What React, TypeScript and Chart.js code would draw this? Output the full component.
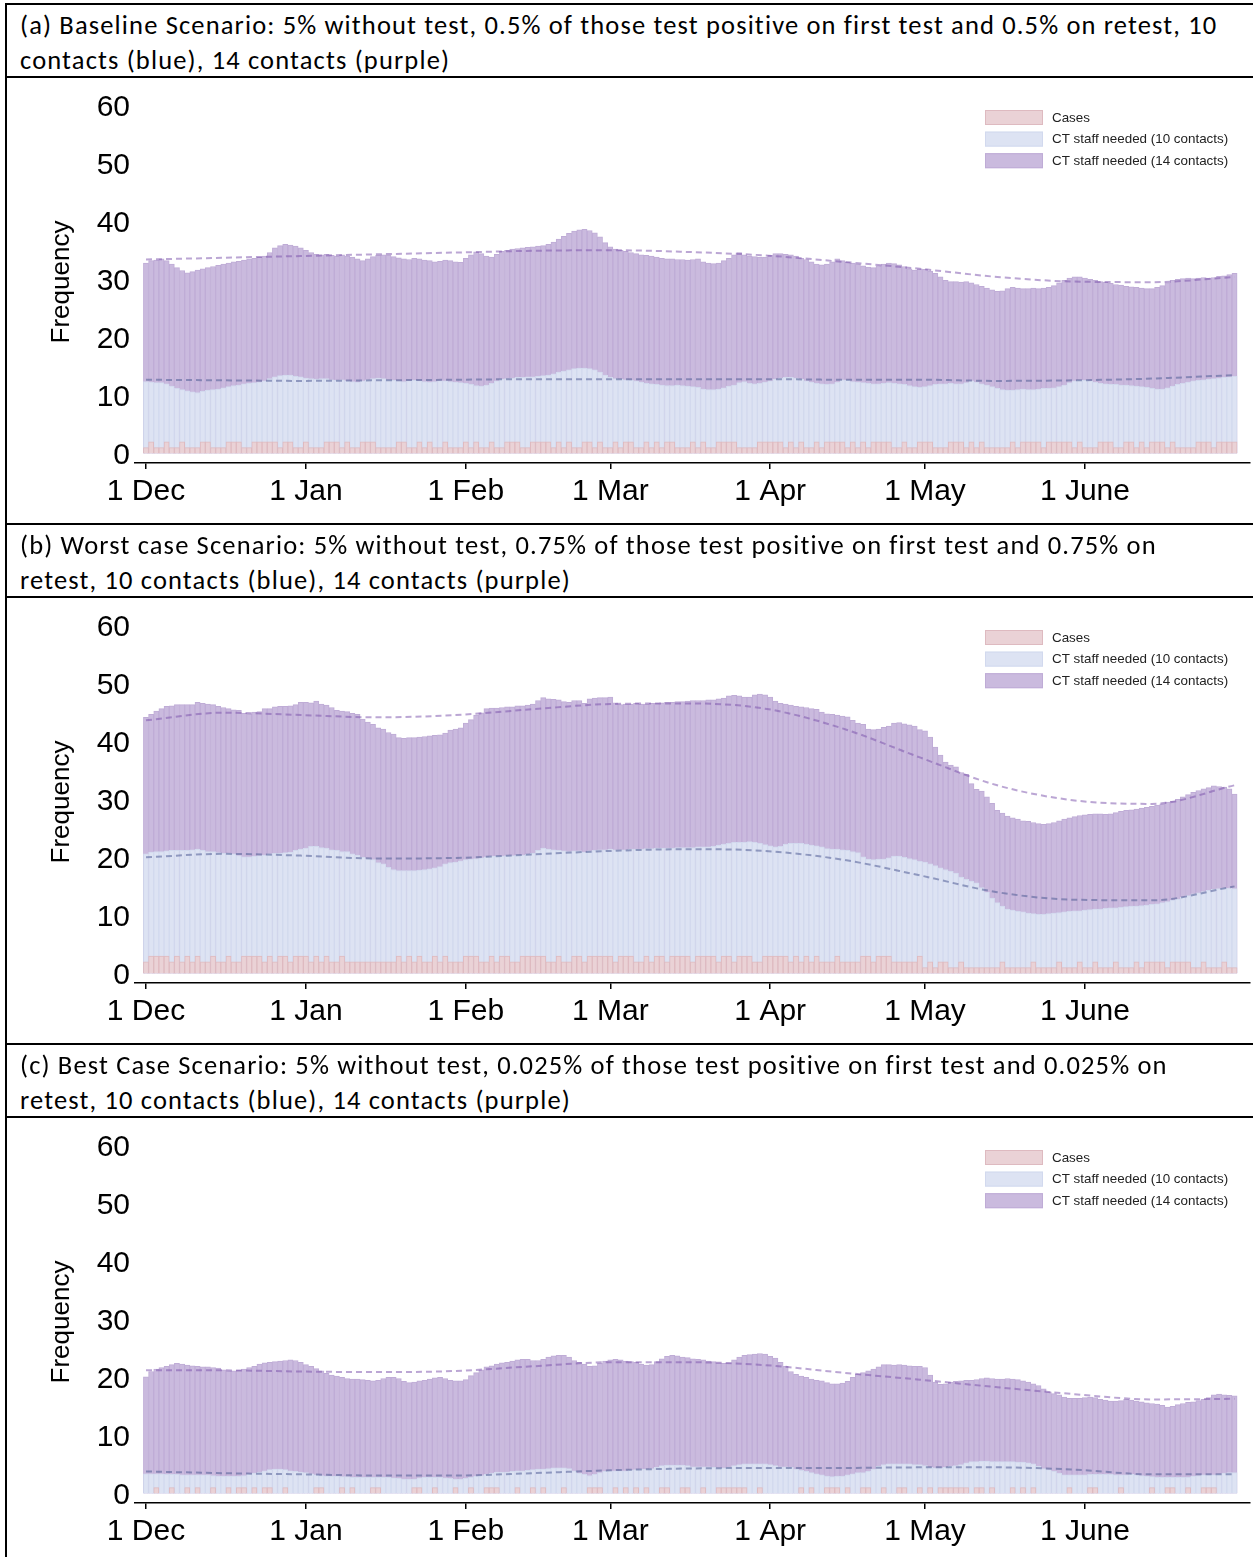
import React, { useEffect, useRef } from 'react';
import { Chart, registerables } from 'chart.js';

Chart.register(...registerables);

// ---------- shared axis data ----------
const monthDays = [0, 31, 62, 90, 121, 151, 182];
const monthLabels = ['1 Dec', '1 Jan', '1 Feb', '1 Mar', '1 Apr', '1 May', '1 June'];
const yTicks = [0, 10, 20, 30, 40, 50, 60];
const seriesLabels = ['Cases', 'CT staff needed (10 contacts)', 'CT staff needed (14 contacts)'];
const trendDays = [0, 15, 30, 45, 60, 75, 90, 105, 120, 135, 150, 165, 180, 195, 211];

// ---------- panel (a) baseline ----------
const titleA = [
  '(a) Baseline Scenario: 5% without test, 0.5% of those test positive on first test and 0.5% on retest, 10',
  'contacts (blue), 14 contacts (purple)',
];
const casesA = [
  1, 2, 1, 1, 2, 1, 1, 2, 1, 1, 1, 2, 2, 1, 1, 1, 2, 2, 2, 1, 1, 2, 2, 2, 2, 2, 1, 2, 2, 1, 1,
  2, 1, 1, 1, 2, 2, 2, 1, 2, 1, 1, 2, 2, 2, 1, 1, 1, 1, 2, 2, 1, 1, 2, 1, 2, 1, 1, 2, 1, 1, 1,
  2, 1, 2, 1, 1, 2, 1, 1, 2, 2, 2, 1, 1, 2, 2, 2, 2, 1, 2, 1, 2, 1, 1, 2, 2, 1, 2, 1,
  1, 2, 1, 2, 2, 1, 1, 2, 1, 2, 1, 2, 2, 1, 1, 1, 2, 1, 2, 1, 1, 2, 2, 2, 2, 1, 1, 1, 1, 2, 2,
  2, 2, 2, 1, 2, 1, 2, 1, 1, 2, 1, 2, 2, 2, 2, 1, 2, 1, 2, 1, 2, 2, 2, 2, 1, 1, 2, 1, 1, 2,
  2, 2, 1, 1, 1, 2, 2, 2, 1, 2, 1, 2, 1, 1, 1, 1, 1, 2, 1, 2, 2, 2, 2, 1, 2, 2, 2, 2, 2, 1, 2,
  1, 1, 1, 2, 2, 2, 1, 1, 2, 2, 1, 2, 1, 2, 2, 2, 1, 2, 1, 1, 1, 1, 2, 2, 2, 1, 2, 2, 2, 2,
];
const staff10A = [
  12.4, 12.3, 12.2, 12.2, 12.0, 11.6, 11.2, 11.0, 10.8, 10.6, 10.5, 10.7, 10.9, 11.0, 11.1, 11.3, 11.5, 11.7, 11.8, 12.0, 12.1, 12.2, 12.3, 12.5, 12.9, 13.2, 13.4, 13.5, 13.5, 13.3, 13.2,
  13.0, 12.9, 12.8, 12.9, 12.9, 12.7, 12.6, 12.7, 12.5, 12.4, 12.3, 12.5, 12.7, 12.9, 13.0, 12.9, 12.7, 12.6, 12.5, 12.4, 12.5, 12.6, 12.5, 12.4, 12.3, 12.4, 12.5, 12.5, 12.4, 12.3, 12.2,
  12.1, 11.9, 11.7, 11.6, 11.8, 12.1, 12.5, 12.8, 12.9, 13.0, 13.1, 13.1, 13.2, 13.2, 13.3, 13.4, 13.5, 13.7, 14.0, 14.2, 14.4, 14.6, 14.7, 14.7, 14.6, 14.4, 14.0, 13.5,
  13.1, 12.9, 12.8, 12.7, 12.6, 12.5, 12.3, 12.1, 12.0, 11.9, 11.8, 11.7, 11.7, 11.8, 11.7, 11.6, 11.5, 11.4, 11.1, 11.0, 11.0, 11.1, 11.3, 11.6, 11.8, 12.2, 12.4, 12.1, 12.0, 12.1, 12.3,
  12.5, 12.8, 13.0, 13.1, 13.1, 13.0, 12.8, 12.5, 12.3, 12.1, 12.0, 11.9, 12.0, 12.3, 12.7, 12.6, 12.4, 12.3, 12.2, 12.1, 12.0, 12.0, 12.1, 12.2, 12.1, 12.0, 11.9, 11.7, 11.5, 11.4,
  11.5, 11.7, 11.9, 12.0, 12.0, 12.1, 12.0, 12.0, 12.2, 12.5, 12.3, 12.0, 11.8, 11.5, 11.2, 11.0, 10.9, 10.9, 11.0, 11.1, 11.0, 11.0, 11.1, 11.2, 11.2, 11.3, 11.5, 11.8, 12.2, 12.5, 12.6,
  12.6, 12.5, 12.3, 12.1, 12.0, 11.9, 11.9, 11.8, 11.8, 11.7, 11.6, 11.5, 11.4, 11.2, 11.1, 11.1, 11.3, 11.6, 11.9, 12.1, 12.3, 12.5, 12.6, 12.7, 12.8, 12.9, 13.0, 13.1, 13.2, 13.3,
];
const staff14A = [
  32.8, 33.2, 33.3, 33.5, 33.2, 32.6, 32.0, 31.5, 31.1, 31.3, 31.6, 31.8, 32.0, 32.2, 32.4, 32.6, 32.8, 33.0, 33.1, 33.3, 33.5, 33.6, 33.8, 34.0, 34.6, 35.4, 35.8, 36.0, 35.9, 35.7, 35.4,
  35.0, 34.6, 34.3, 34.2, 34.3, 34.1, 34.0, 34.2, 34.0, 33.8, 33.5, 33.2, 33.5, 33.9, 34.1, 34.2, 34.1, 33.9, 33.7, 33.5, 33.4, 33.6, 33.5, 33.3, 33.2, 33.0, 33.1, 33.3, 33.2, 33.0, 32.9,
  33.6, 34.2, 34.7, 34.4, 34.0, 33.8, 34.3, 34.8, 35.0, 35.2, 35.3, 35.4, 35.5, 35.6, 35.7, 35.8, 36.0, 36.4, 36.9, 37.4, 37.9, 38.3, 38.5, 38.6, 38.4, 38.0, 37.3, 36.3,
  35.6, 35.2, 35.0, 34.8, 34.6, 34.4, 34.2, 34.1, 34.0, 33.8, 33.6, 33.5, 33.5, 33.4, 33.4, 33.3, 33.4, 33.5, 33.0, 32.8, 32.7, 32.8, 33.2, 33.6, 34.2, 34.6, 34.2, 34.0, 33.9, 33.8, 33.8,
  34.1, 34.4, 34.4, 34.3, 34.2, 34.0, 33.6, 33.4, 33.0, 32.6, 32.5, 32.6, 33.0, 33.5, 33.2, 32.9, 32.8, 32.6, 32.3, 32.1, 32.0, 32.3, 32.6, 32.8, 32.7, 32.5, 32.2, 31.8, 31.6, 31.8,
  31.7, 31.4, 31.0, 30.4, 29.8, 29.6, 29.6, 29.5, 29.6, 29.4, 29.1, 28.8, 28.5, 28.2, 27.9, 28.0, 28.4, 28.6, 28.5, 28.4, 28.4, 28.5, 28.4, 28.5, 28.6, 28.9, 29.4, 29.8, 30.2, 30.4, 30.4,
  30.2, 30.0, 29.8, 29.6, 29.5, 29.3, 29.1, 29.0, 28.8, 28.7, 28.6, 28.5, 28.4, 28.4, 28.6, 28.9, 29.4, 29.8, 30.0, 30.1, 30.2, 30.1, 30.2, 30.3, 30.2, 30.3, 30.5, 30.6, 30.8, 31.0,
];
const trend10A = [12.7, 12.6, 12.5, 12.6, 12.7, 12.8, 12.8, 12.8, 12.8, 12.7, 12.7, 12.5, 12.6, 12.9, 13.5];
const trend14A = [33.4, 33.7, 34.0, 34.3, 34.6, 34.9, 35.0, 34.7, 34.1, 33.0, 31.8, 30.4, 29.6, 29.5, 30.4];

// ---------- panel (b) worst case ----------
const titleB = [
  '(b) Worst case Scenario: 5% without test, 0.75% of those test positive on first test and 0.75% on',
  'retest, 10 contacts (blue), 14 contacts (purple)',
];
const casesB = [
  2, 3, 3, 3, 3, 2, 3, 2, 3, 2, 3, 2, 2, 3, 2, 2, 3, 2, 2, 3, 3, 3, 3, 2, 3, 2, 3, 3, 2, 3, 3,
  3, 2, 3, 2, 3, 2, 2, 3, 2, 2, 2, 2, 2, 2, 2, 2, 2, 2, 3, 2, 3, 2, 3, 2, 2, 3, 2, 3, 2, 2, 2,
  3, 3, 3, 2, 2, 3, 2, 3, 3, 2, 2, 3, 3, 3, 3, 3, 2, 2, 3, 2, 2, 3, 3, 2, 3, 3, 3, 3,
  3, 2, 3, 3, 3, 2, 2, 3, 2, 3, 3, 2, 3, 3, 3, 3, 2, 3, 3, 3, 3, 2, 3, 3, 2, 3, 3, 3, 2, 2, 3,
  3, 3, 3, 3, 2, 3, 2, 3, 2, 3, 2, 2, 2, 3, 2, 2, 2, 2, 3, 3, 2, 3, 3, 3, 2, 2, 2, 2, 2, 3,
  1, 2, 1, 2, 2, 1, 1, 2, 1, 1, 1, 1, 1, 1, 1, 2, 1, 1, 1, 1, 1, 2, 1, 1, 1, 1, 2, 1, 1, 1, 2,
  1, 1, 2, 1, 1, 1, 2, 1, 1, 1, 2, 1, 2, 2, 2, 2, 1, 2, 2, 2, 2, 1, 1, 2, 1, 1, 1, 2, 1, 1,
];
const staff10B = [
  20.6, 20.9, 21.0, 21.0, 21.1, 21.2, 21.2, 21.2, 21.2, 21.3, 21.4, 21.2, 21.0, 21.0, 20.8, 20.7, 20.7, 20.6, 20.3, 20.1, 20.1, 20.2, 20.3, 20.4, 20.6, 20.7, 20.7, 20.8, 20.9, 21.2, 21.4,
  21.6, 21.9, 21.9, 21.7, 21.6, 21.3, 21.2, 21.0, 21.0, 20.6, 20.4, 20.0, 19.8, 19.6, 19.1, 18.9, 18.3, 17.9, 17.7, 17.7, 17.7, 17.7, 17.8, 17.9, 18.0, 18.2, 18.4, 18.9, 19.1, 19.2, 19.4,
  19.6, 19.7, 19.8, 19.9, 20.1, 20.2, 20.2, 20.2, 20.3, 20.3, 20.4, 20.4, 20.5, 20.7, 21.2, 21.6, 21.4, 21.3, 21.2, 21.1, 21.0, 21.1, 21.1, 20.9, 21.1, 21.2, 21.3, 21.3,
  21.4, 21.3, 21.3, 21.3, 21.4, 21.4, 21.4, 21.5, 21.5, 21.6, 21.6, 21.6, 21.6, 21.7, 21.7, 21.7, 21.7, 21.8, 21.8, 21.8, 21.9, 22.1, 22.3, 22.4, 22.6, 22.6, 22.6, 22.7, 22.6, 22.4, 22.2,
  22.0, 21.8, 21.9, 22.3, 22.4, 22.4, 22.4, 22.3, 22.1, 22.0, 21.8, 21.5, 21.4, 21.4, 21.3, 21.2, 21.0, 20.8, 20.1, 19.7, 19.6, 19.7, 19.7, 19.9, 20.2, 20.2, 20.0, 19.8, 19.6, 19.3,
  19.2, 18.9, 18.6, 18.2, 17.9, 17.6, 17.3, 16.6, 16.2, 15.9, 15.6, 14.8, 14.0, 13.0, 12.2, 11.6, 11.1, 10.9, 10.7, 10.6, 10.4, 10.3, 10.2, 10.2, 10.3, 10.4, 10.5, 10.6, 10.7, 10.8, 10.8,
  10.9, 11.0, 11.1, 11.1, 11.2, 11.3, 11.3, 11.4, 11.5, 11.6, 11.6, 11.7, 11.8, 11.9, 12.0, 12.2, 12.4, 12.6, 12.8, 13.1, 13.4, 13.7, 13.9, 14.1, 14.3, 14.5, 14.6, 14.7, 14.7, 14.6,
];
const staff14B = [
  44.1, 44.6, 45.2, 45.6, 46.0, 46.1, 46.3, 46.3, 46.3, 46.3, 46.7, 46.5, 46.4, 46.3, 46.0, 45.8, 45.6, 45.4, 45.3, 44.8, 44.7, 45.0, 45.1, 45.6, 45.6, 45.9, 46.0, 46.0, 46.1, 46.3, 46.7,
  46.7, 46.6, 46.9, 46.4, 46.2, 45.8, 45.3, 45.2, 45.1, 44.8, 44.6, 43.8, 43.3, 42.9, 42.3, 42.1, 41.5, 41.2, 40.6, 40.5, 40.6, 40.6, 40.7, 40.8, 40.9, 41.0, 41.1, 41.4, 41.9, 42.1, 42.3,
  43.1, 43.7, 44.5, 44.9, 45.6, 45.7, 45.7, 45.8, 45.9, 45.9, 46.1, 46.1, 46.2, 46.4, 47.0, 47.5, 47.3, 47.2, 47.1, 46.8, 46.7, 47.0, 47.0, 46.5, 47.3, 47.4, 47.5, 47.5,
  47.6, 46.6, 46.3, 46.4, 46.4, 46.5, 46.4, 46.4, 46.5, 46.5, 46.6, 46.7, 46.7, 46.8, 46.8, 46.9, 47.0, 47.0, 47.0, 47.1, 47.1, 47.3, 47.4, 47.8, 47.9, 47.8, 47.6, 47.6, 48.0, 48.1, 48.0,
  47.6, 46.9, 46.5, 46.4, 46.2, 46.0, 45.9, 45.8, 45.6, 45.5, 45.0, 44.7, 44.6, 44.5, 44.3, 44.2, 43.6, 43.1, 42.9, 42.1, 42.0, 42.1, 42.4, 42.6, 43.1, 43.2, 43.0, 42.8, 42.6, 42.0,
  41.8, 40.7, 39.0, 37.6, 36.4, 35.9, 35.6, 34.6, 34.3, 32.7, 31.7, 31.4, 30.4, 29.3, 28.1, 27.6, 27.1, 26.8, 26.6, 26.3, 26.2, 26.0, 25.8, 25.7, 25.8, 26.0, 26.3, 26.6, 26.8, 27.0, 27.2,
  27.3, 27.4, 27.5, 27.5, 27.4, 27.5, 27.7, 27.9, 28.1, 28.2, 28.3, 28.5, 28.6, 28.8, 29.0, 29.2, 29.5, 29.7, 30.0, 30.4, 30.8, 31.2, 31.5, 31.8, 32.0, 32.3, 32.2, 32.1, 31.8, 30.9,
];
const trend10B = [20.0, 20.6, 20.3, 19.8, 19.9, 20.5, 21.1, 21.4, 21.1, 19.6, 16.9, 14.0, 12.7, 12.6, 15.0];
const trend14B = [43.6, 44.9, 44.5, 44.1, 44.5, 45.5, 46.4, 46.5, 45.6, 42.2, 37.2, 32.4, 29.8, 29.2, 32.4];

// ---------- panel (c) best case ----------
const titleC = [
  '(c) Best Case Scenario: 5% without test, 0.025% of those test positive on first test and 0.025% on',
  'retest, 10 contacts (blue), 14 contacts (purple)',
];
const casesC = [
  0, 0, 1, 0, 0, 1, 0, 0, 1, 0, 1, 0, 0, 1, 0, 0, 1, 0, 1, 1, 0, 1, 0, 1, 1, 0, 0, 1, 0, 0, 0,
  0, 0, 1, 1, 0, 0, 0, 1, 0, 1, 0, 0, 0, 1, 1, 0, 0, 0, 0, 0, 0, 1, 1, 0, 0, 1, 0, 0, 0, 1, 0,
  0, 1, 0, 0, 1, 1, 1, 0, 0, 0, 1, 0, 0, 1, 0, 1, 0, 0, 0, 1, 0, 0, 0, 0, 1, 1, 1, 0,
  0, 1, 0, 1, 0, 1, 0, 1, 0, 0, 1, 1, 0, 0, 1, 1, 0, 0, 1, 0, 0, 1, 1, 1, 1, 1, 1, 0, 0, 1, 0,
  0, 0, 0, 0, 0, 0, 1, 0, 1, 0, 0, 1, 1, 1, 0, 1, 0, 0, 1, 1, 0, 0, 1, 0, 0, 1, 1, 0, 0, 1,
  0, 1, 0, 1, 1, 1, 1, 1, 1, 0, 1, 1, 0, 1, 0, 0, 0, 1, 0, 1, 0, 1, 0, 0, 0, 0, 0, 0, 1, 0, 0,
  0, 1, 1, 0, 0, 0, 0, 1, 0, 0, 0, 0, 0, 1, 0, 0, 1, 1, 0, 0, 1, 0, 0, 1, 1, 1, 0, 0, 0, 0,
];
const staff10C = [
  3.4, 3.4, 3.4, 3.4, 3.3, 3.3, 3.3, 3.2, 3.2, 3.2, 3.2, 3.2, 3.2, 3.1, 3.0, 3.0, 3.0, 3.0, 3.0, 3.1, 3.3, 3.5, 3.7, 3.9, 4.1, 4.2, 4.2, 4.1, 3.9, 3.8, 3.7,
  3.6, 3.4, 3.2, 3.1, 3.0, 3.0, 3.0, 2.9, 2.9, 2.8, 2.8, 2.8, 2.8, 2.8, 2.8, 2.8, 2.8, 2.7, 2.6, 2.5, 2.5, 2.5, 2.7, 2.8, 2.8, 2.8, 2.8, 2.7, 2.6, 2.5, 2.5,
  2.6, 2.8, 3.0, 3.1, 3.3, 3.5, 3.7, 3.7, 3.7, 3.8, 3.9, 3.9, 4.0, 4.1, 4.2, 4.2, 4.3, 4.4, 4.4, 4.4, 4.3, 3.9, 3.5, 3.3, 3.1, 3.3, 3.6, 3.8,
  3.9, 3.9, 3.9, 3.9, 4.0, 4.1, 4.2, 4.2, 4.3, 4.5, 4.8, 4.9, 4.9, 4.9, 4.9, 4.8, 4.6, 4.6, 4.6, 4.6, 4.5, 4.4, 4.4, 4.5, 4.8, 5.0, 5.1, 5.1, 5.1, 5.1, 5.1,
  5.0, 4.8, 4.6, 4.6, 4.5, 4.2, 4.0, 3.8, 3.6, 3.4, 3.2, 3.0, 2.9, 3.0, 3.0, 3.2, 3.4, 3.6, 3.6, 3.8, 4.2, 4.7, 5.0, 5.1, 5.1, 5.1, 5.1, 5.1, 5.0, 5.0,
  4.8, 4.5, 4.4, 4.4, 4.5, 4.7, 4.8, 5.0, 5.3, 5.5, 5.5, 5.6, 5.6, 5.5, 5.5, 5.5, 5.5, 5.5, 5.4, 5.4, 5.3, 5.1, 4.7, 4.3, 4.1, 3.8, 3.5, 3.2, 3.2, 3.2, 3.2,
  3.2, 3.3, 3.3, 3.3, 3.3, 3.3, 3.2, 3.2, 3.2, 3.3, 3.2, 3.1, 3.0, 2.9, 2.8, 2.8, 2.8, 2.8, 2.8, 2.8, 2.8, 3.0, 3.1, 3.2, 3.2, 3.2, 3.3, 3.5, 3.6, 3.6,
];
const staff14C = [
  20.1, 21.0, 21.4, 21.7, 21.9, 22.2, 22.4, 22.3, 22.1, 22.0, 21.9, 21.8, 21.8, 21.7, 21.6, 21.3, 21.1, 21.1, 21.2, 21.4, 21.7, 21.9, 22.3, 22.5, 22.6, 22.7, 22.8, 22.9, 23.0, 22.9, 22.6,
  22.2, 21.9, 21.5, 21.1, 20.7, 20.4, 20.2, 20.0, 19.8, 19.7, 19.7, 19.6, 19.5, 19.4, 19.5, 19.8, 20.0, 20.0, 19.8, 19.3, 19.1, 19.2, 19.4, 19.5, 19.7, 19.9, 20.0, 19.8, 19.5, 19.4, 19.4,
  19.6, 20.3, 20.8, 21.3, 21.8, 22.0, 22.3, 22.5, 22.6, 22.8, 23.0, 23.1, 23.1, 22.9, 22.9, 23.1, 23.5, 23.7, 23.8, 23.8, 23.5, 22.9, 22.6, 22.3, 21.9, 22.0, 22.4, 22.8,
  23.0, 23.1, 23.0, 22.8, 22.7, 22.6, 22.3, 22.1, 22.2, 22.7, 23.2, 23.6, 23.8, 23.7, 23.5, 23.4, 23.2, 23.1, 23.0, 22.8, 22.7, 22.5, 22.4, 22.5, 23.0, 23.5, 23.8, 23.9, 24.0, 24.1, 24.0,
  23.6, 23.3, 22.6, 21.9, 21.0, 20.5, 20.2, 20.0, 19.7, 19.5, 19.4, 19.1, 18.9, 18.9, 19.0, 19.3, 20.0, 20.5, 20.8, 21.1, 21.4, 21.8, 22.2, 22.2, 22.1, 22.2, 22.1, 22.0, 21.9, 21.9,
  21.7, 20.4, 19.2, 18.8, 18.9, 19.2, 19.3, 19.4, 19.5, 19.5, 19.6, 19.8, 19.9, 19.8, 19.7, 19.7, 19.8, 19.7, 19.6, 19.4, 19.2, 18.9, 18.6, 18.0, 17.5, 17.2, 17.0, 16.6, 16.4, 16.4, 16.4,
  16.5, 16.6, 16.5, 16.2, 16.1, 15.9, 15.9, 16.0, 16.2, 16.1, 15.9, 15.8, 15.6, 15.5, 15.4, 15.2, 14.9, 15.0, 15.3, 15.5, 15.7, 15.8, 16.0, 16.2, 16.5, 17.0, 17.1, 17.0, 16.9, 16.8,
];
const trend10C = [3.8, 3.5, 3.3, 3.1, 3.1, 3.5, 4.0, 4.3, 4.4, 4.4, 4.5, 4.5, 4.1, 3.3, 3.3];
const trend14C = [21.2, 21.2, 21.0, 20.9, 21.1, 21.9, 22.6, 22.6, 22.1, 20.8, 19.6, 18.3, 17.1, 16.2, 16.3];

// ---------- styling ----------
const FONT = "'Liberation Sans', Arial, Helvetica, sans-serif";
const TITLE_FONT = "Carlito, Calibri, Lato, 'Open Sans', sans-serif";
const PAGE_W = 1253;
const PANEL_H = 520;
const PANEL_TOP = 4;
const TITLE_H = 73;
const CANVAS_H = PANEL_H - TITLE_H - 1;

const colors = {
  cases: { fill: 'rgb(234,210,214)', line: 'rgb(222,186,192)' },
  c10: { fill: 'rgb(221,227,243)', line: 'rgb(210,217,238)' },
  c14: { fill: 'rgb(202,186,222)', line: 'rgb(191,172,214)' },
  t10: 'rgba(80,92,150,0.55)',
  t14: 'rgba(120,78,170,0.5)',
};

const legendPlugin = {
  id: 'boxLegend',
  afterDatasetsDraw(chart: any) {
    const ctx = chart.ctx;
    const items = chart.data.datasets.filter((d: any) => d.type !== 'line');
    ctx.save();
    items.forEach((ds: any, i: number) => {
      const cy = 39.5 + i * 21.6;
      ctx.fillStyle = ds.backgroundColor;
      ctx.fillRect(985, cy - 7.5, 58, 15);
      ctx.strokeStyle = ds.borderColor;
      ctx.lineWidth = 1;
      ctx.strokeRect(985.5, cy - 7, 57, 14);
      ctx.fillStyle = '#222';
      ctx.font = `13.4px ${FONT}`;
      ctx.textBaseline = 'middle';
      ctx.textAlign = 'left';
      ctx.fillText(ds.label, 1052, cy + 0.5);
    });
    ctx.restore();
  },
};

type PanelProps = {
  index: number;
  title: string[];
  cases: number[];
  staff10: number[];
  staff14: number[];
  trend10: number[];
  trend14: number[];
};

function Panel({ index, title, cases, staff10, staff14, trend10, trend14 }: PanelProps) {
  const ref = useRef<HTMLCanvasElement>(null);
  const top = PANEL_TOP + index * PANEL_H;

  useEffect(() => {
    if (!ref.current) return;
    const days = staff14.map((_, i) => i);
    const chart = new Chart(ref.current, {
      type: 'bar',
      data: {
        labels: days,
        datasets: [
          {
            type: 'line',
            label: 'trend14',
            data: trendDays.map((d, i) => ({ x: d, y: trend14[i] })),
            borderColor: colors.t14,
            borderWidth: 2,
            borderDash: [6, 4],
            pointRadius: 0,
            fill: false,
            cubicInterpolationMode: 'monotone',
            order: 0,
          } as any,
          {
            type: 'line',
            label: 'trend10',
            data: trendDays.map((d, i) => ({ x: d, y: trend10[i] })),
            borderColor: colors.t10,
            borderWidth: 2,
            borderDash: [6, 4],
            pointRadius: 0,
            fill: false,
            cubicInterpolationMode: 'monotone',
            order: 0,
          } as any,
          {
            label: seriesLabels[0],
            data: cases.map((v) => (v === 0 ? null : v)),
            backgroundColor: colors.cases.fill,
            borderColor: colors.cases.line,
            borderWidth: 1,
            borderSkipped: 'start',
            grouped: false,
            barPercentage: 1,
            categoryPercentage: 1,
            order: 1,
          } as any,
          {
            label: seriesLabels[1],
            data: staff10,
            backgroundColor: colors.c10.fill,
            borderColor: colors.c10.line,
            borderWidth: 1,
            borderSkipped: 'start',
            grouped: false,
            barPercentage: 1,
            categoryPercentage: 1,
            order: 2,
          } as any,
          {
            label: seriesLabels[2],
            data: staff14,
            backgroundColor: colors.c14.fill,
            borderColor: colors.c14.line,
            borderWidth: 1,
            borderSkipped: 'start',
            grouped: false,
            barPercentage: 1,
            categoryPercentage: 1,
            order: 3,
          } as any,
        ],
      },
      options: {
        responsive: false,
        animation: false,
        events: [],
        layout: { padding: { top: 23, right: 3, left: 0, bottom: 0 } },
        plugins: { legend: { display: false }, tooltip: { enabled: false } },
        scales: {
          x: {
            type: 'linear',
            min: -2.13,
            max: 214,
            offset: false,
            grid: {
              display: true,
              offset: false,
              drawOnChartArea: false,
              drawTicks: true,
              tickLength: 6,
              color: '#000',
              lineWidth: 1.5,
            },
            border: { display: true, color: '#000', width: 1.5 },
            ticks: {
              font: { size: 30, family: FONT },
              color: '#000',
              padding: 5,
              autoSkip: false,
              maxRotation: 0,
              callback: (_v: any, i: number) => monthLabels[i],
            },
            afterBuildTicks: (s: any) => {
              s.ticks = monthDays.map((v) => ({ value: v }));
            },
            afterFit: (s: any) => {
              s.height = CANVAS_H - 385;
            },
          } as any,
          y: {
            min: -1.636,
            max: 60.69,
            grid: { display: false, drawTicks: false },
            border: { display: false },
            ticks: { font: { size: 30, family: FONT }, color: '#000', padding: 5, labelOffset: 2.5 },
            afterBuildTicks: (s: any) => {
              s.ticks = yTicks.map((v) => ({ value: v }));
            },
            afterFit: (s: any) => {
              s.width = 135;
            },
            title: {
              display: true,
              text: 'Frequency',
              font: { size: 26, family: FONT },
              color: '#000',
              padding: { top: 46, bottom: 0 },
            },
          } as any,
        },
      },
      plugins: [legendPlugin],
    });
    return () => chart.destroy();
  }, []);

  return (
    <>
      <div style={{ position: 'absolute', left: 5, top: top - 1, width: PAGE_W - 5, height: 2, background: '#000' }} />
      <div style={{ position: 'absolute', left: 5, top: top + TITLE_H - 1, width: PAGE_W - 5, height: 2, background: '#000' }} />
      {title.map((line, i) => (
        <div
          key={i}
          style={{
            position: 'absolute',
            left: 20,
            top: top + 4 + i * 35,
            height: 35,
            lineHeight: '35px',
            fontSize: 26.5,
            letterSpacing: '1.15px',
            fontFamily: TITLE_FONT,
            color: '#000',
            whiteSpace: 'nowrap',
          }}
        >
          {line}
        </div>
      ))}
      <canvas
        ref={ref}
        width={PAGE_W}
        height={CANVAS_H}
        style={{ position: 'absolute', left: 0, top: top + TITLE_H + 1, width: PAGE_W, height: CANVAS_H, display: 'block' }}
      />
    </>
  );
}

export default function App() {
  return (
    <div style={{ position: 'absolute', left: 0, top: 0, width: PAGE_W, height: 1557, overflow: 'hidden', background: '#fff' }}>
      <div style={{ position: 'absolute', left: 5, top: 3, width: 2, height: 1557, background: '#000' }} />
      <Panel index={0} title={titleA} cases={casesA} staff10={staff10A} staff14={staff14A} trend10={trend10A} trend14={trend14A} />
      <Panel index={1} title={titleB} cases={casesB} staff10={staff10B} staff14={staff14B} trend10={trend10B} trend14={trend14B} />
      <Panel index={2} title={titleC} cases={casesC} staff10={staff10C} staff14={staff14C} trend10={trend10C} trend14={trend14C} />
    </div>
  );
}
